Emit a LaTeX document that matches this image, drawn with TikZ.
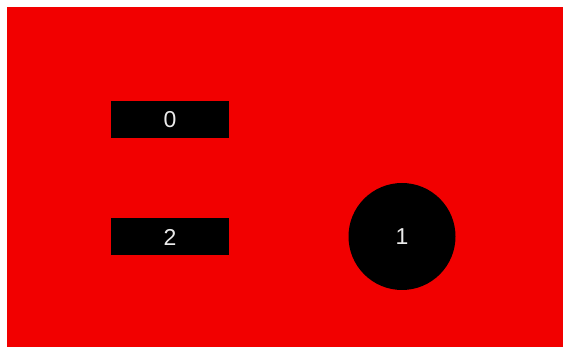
\documentclass[tikz,border=0pt]{standalone}
\usepackage{fontspec}
\setmainfont{Liberation Sans}
\usepackage{xcolor}
\usepackage{tikz}
\usetikzlibrary{positioning}

\definecolor{bgred}{RGB}{242,0,0}
\definecolor{digitgray}{RGB}{235,235,235}

\begin{document}
\begin{tikzpicture}[
      x=1pt, y=-1pt,
      bar/.style={rectangle, fill=black, text centered, inner sep=0pt,
          minimum height=37pt, minimum width=118pt,
          font=\fontsize{23}{23}\selectfont, text=digitgray},
      disc/.style={circle, fill=black, text centered, inner sep=0pt,
          minimum size=107pt,
          font=\fontsize{23}{23}\selectfont, text=digitgray}
    ]
    \useasboundingbox (0,0) rectangle (563,347);
    \fill[bgred] (7,7) rectangle (563,347);

    \node[bar] (b0) at (170,119.5) {0};
    \node[bar] (b2) at (170,237) {2};
    \node[disc] (c1) at (402,236.5) {1};
  \end{tikzpicture}
\end{document}
